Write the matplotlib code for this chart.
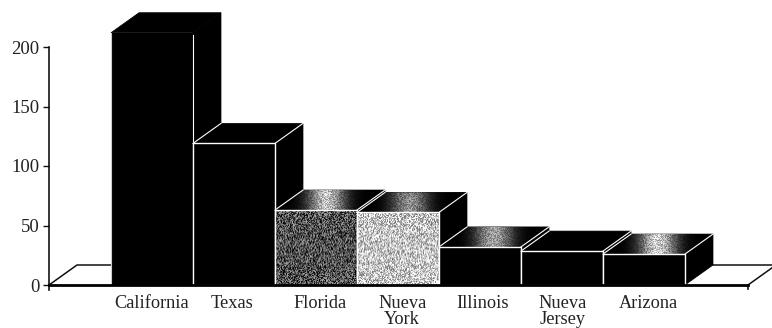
import numpy as np
from matplotlib import pyplot as plt
from matplotlib.patches import Polygon, Rectangle

plt.rcParams['font.family'] = ['Liberation Serif', 'DejaVu Serif']

states = ["California", "Texas", "Florida", "Nueva\nYork", "Illinois", "Nueva\nJersey", "Arizona"]
values = [212, 119, 63, 61, 32, 28.5, 26]
y_ticks = [0, 50, 100, 150, 200]
label_pos = [-0.01, 0.98, 2.05, 3.05, 4.03, 5.01, 6.05]

# front face grey level (0 = solid black), top face highlight strength and where it peaks
front_grey = [0, 0, 0.32, 0.78, 0, 0, 0]
top_glow = [0, 0, 0.75, 0.55, 0.62, 0, 0.8]
glow_pos = [0.5, 0.5, 0.47, 0.48, 0.5, 0.5, 0.5]

depth_x = 28 / 82
depth_y = 20 / 1.19
half = 0.5


def grain(h, w, seed):
    # print-like speckle from a sine hash, values in 0..1
    yy, xx = np.mgrid[0:h, 0:w]
    n = np.sin((xx + seed) * 12.9898 + yy * 78.233) * 43758.5453
    n = n - np.floor(n)
    m = np.sin(n * 91.7 + xx * 3.1 + yy * 7.3) * 24634.6345
    return m - np.floor(m)


fig = plt.figure(figsize=(7.72, 3.28), dpi=100)
ax = fig.add_axes([49 / 772, (328 - 285) / 328, (748 - 49) / 772, (285 - 47) / 328])

x_min, x_max = (49 - 152) / 82, (748 - 152) / 82
first_left = -half
last_right = len(states) - 1 + half

# floor outline either side of the bars
ax.plot([x_min, x_min + depth_x, first_left], [0, depth_y, depth_y], color="#111111", lw=1.1, clip_on=False, zorder=1)
ax.plot([last_right + depth_x, x_max + depth_x, x_max], [depth_y, depth_y, 0], color="#111111", lw=1.1, clip_on=False, zorder=1)

z = 2
for i, v in enumerate(values):
    l, r = i - half, i + half

    top = Polygon([(l, v), (l + depth_x, v + depth_y), (r + depth_x, v + depth_y), (r, v)],
                  facecolor="black", edgecolor="black", lw=0.5, clip_on=False, zorder=z)
    side = Polygon([(r, 0), (r + depth_x, depth_y), (r + depth_x, v + depth_y), (r, v)],
                   facecolor="black", edgecolor="black", lw=0.5, clip_on=False, zorder=z)
    ax.add_patch(side)
    ax.add_patch(top)

    if top_glow[i] > 0:
        xs = np.linspace(0, 1, 110)
        profile = top_glow[i] * np.exp(-((xs - glow_pos[i]) / 0.17) ** 2)
        shade = np.tile(profile, (20, 1))
        shade = np.clip(shade * (0.7 + 0.6 * grain(20, 110, i)), 0, 1)
        img = ax.imshow(shade, cmap="gray", vmin=0, vmax=1, aspect="auto", interpolation="bilinear",
                        extent=(l, r + depth_x, v, v + depth_y), clip_on=True, zorder=z + 0.1)
        img.set_clip_path(top)

    front = Rectangle((l, 0), 1, v, facecolor="black", edgecolor="none", clip_on=False, zorder=z + 0.2)
    ax.add_patch(front)
    if front_grey[i] > 0:
        h_px = int(v * 1.19)
        face = np.clip(front_grey[i] + 0.7 * (grain(h_px, 82, i) - 0.5), 0, 1)
        ax.imshow(face, cmap="gray", vmin=0, vmax=1, aspect="auto", interpolation="bilinear",
                  extent=(l, r, 0, v), zorder=z + 0.3)

    # white outlines; the first bar has no lit top edge
    if i == 0:
        ax.plot([l, l], [0, v], color="#cccccc", lw=0.8, clip_on=False, zorder=z + 0.4)
        ax.plot([r, r], [0, v - 2], color="white", lw=0.8, clip_on=False, zorder=z + 0.4)
    else:
        ax.plot([l, l, r, r, l], [0, v, v, 0, 0], color="white", lw=1.0, clip_on=False, zorder=z + 0.4)
        ax.plot([l, l + depth_x], [v, v + depth_y], color="white", lw=0.8, clip_on=False, zorder=z + 0.4)
        ax.plot([r, r + depth_x], [v, v + depth_y], color="white", lw=0.8, clip_on=False, zorder=z + 0.4)
    z += 1

ax.set_xlim(x_min, x_max)
ax.set_ylim(0, 200)
ax.patch.set_alpha(0)

ax.set_yticks(y_ticks)
ax.set_xticks(label_pos)
ax.set_xticklabels(states, linespacing=0.98)
ax.tick_params(axis="y", length=4, width=1, labelsize=13.5, pad=3, color="#111111", labelcolor="#222222")
ax.tick_params(axis="x", length=0, labelsize=13.2, pad=7, labelcolor="#222222")

for s in ["top", "right"]:
    ax.spines[s].set_visible(False)
ax.spines["left"].set_linewidth(1.1)
ax.spines["bottom"].set_linewidth(2)
for s in ax.spines.values():
    s.set_zorder(50)

# short stubs below the baseline at both ends
ax.plot([x_min, x_min], [0, -4.5], color="#111111", lw=1.2, clip_on=False, zorder=50)
ax.plot([x_max, x_max], [0, -3.5], color="#111111", lw=1.2, clip_on=False, zorder=50)

plt.savefig("out.png", dpi=100)
